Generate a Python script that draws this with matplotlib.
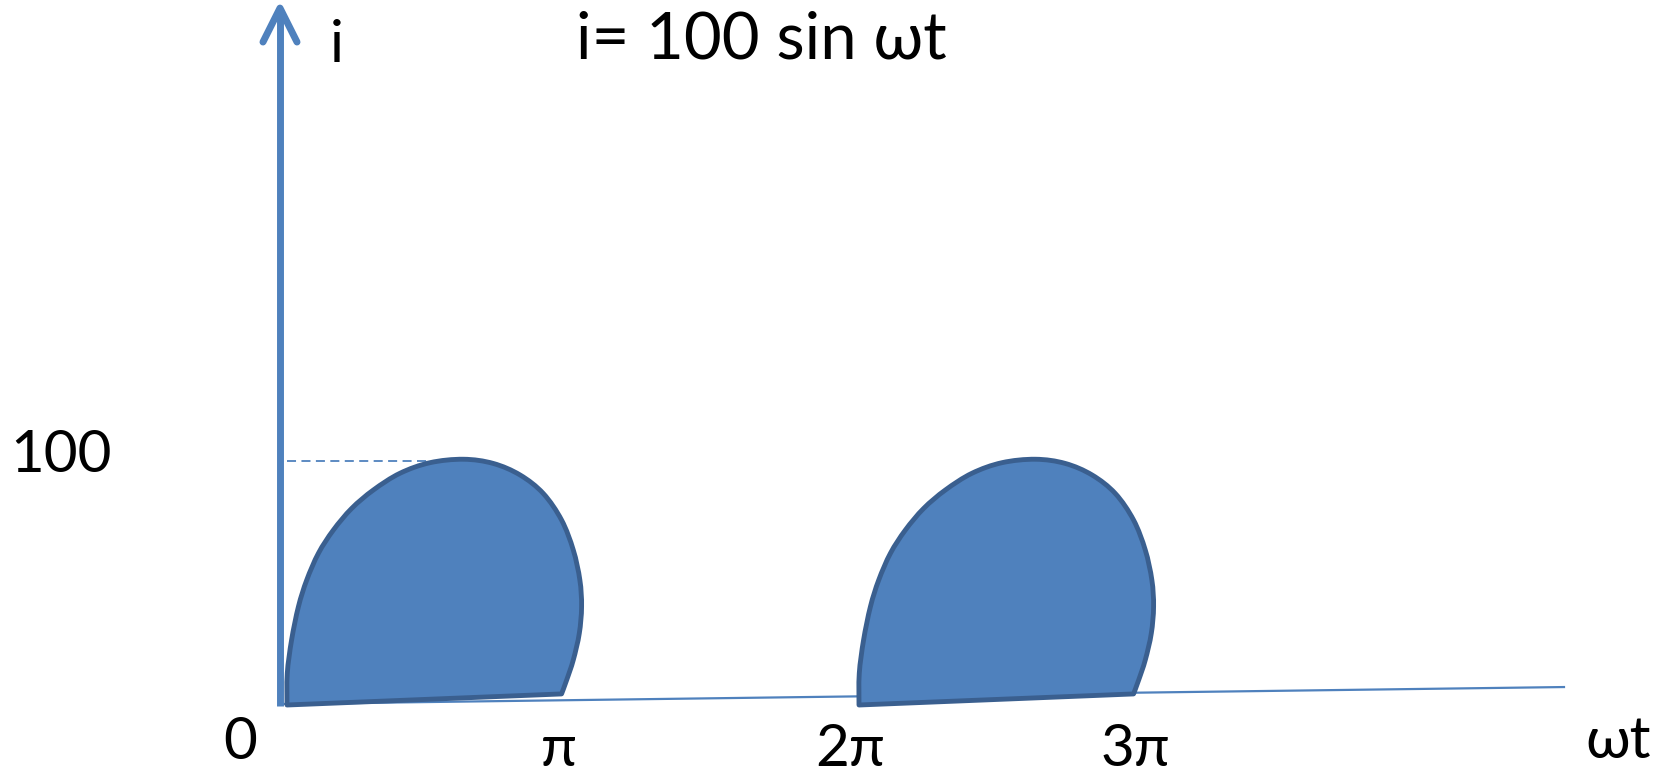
import matplotlib.pyplot as plt
from matplotlib.patches import PathPatch
from matplotlib.path import Path

plt.rcParams['font.family'] = ['Lato', 'DejaVu Sans']

# one lobe outline: x in units of pi, y = current i
lobe_x = [0.0, 0.001, 0.016, 0.040, 0.069, 0.110, 0.162, 0.226, 0.302, 0.395, 0.500,
          0.617, 0.721, 0.815, 0.896, 0.960, 1.001, 1.024, 1.030, 1.022, 1.001, 0.978, 0.960]
lobe_i = [0.0, 12.9, 26.4, 40.0, 50.8, 61.7, 71.1, 79.9, 87.4, 94.2, 98.5,
          99.9, 98.2, 93.5, 86.0, 75.2, 63.0, 50.8, 40.0, 29.1, 18.3, 10.2, 4.5]
lobe_starts = [0, 2]          # lobes start at 0 and 2pi
peak = 100

tick_labels = ["0", "π", "2π", "3π"]
tick_x = [-0.164, 0.951, 1.969, 2.965]
tick_y = [-22.0, -25.0, -25.0, -25.0]

fill_c = "#4F81BD"
edge_c = "#3A5F8F"


def smooth_path(xs, ys):
    # curved outline through the points (Catmull-Rom handles), straight bottom edge
    pts = list(zip(xs, ys))
    verts = [pts[0]]
    codes = [Path.MOVETO]
    n = len(pts)
    for k in range(n - 1):
        p0 = pts[max(k - 1, 0)]
        p1 = pts[k]
        p2 = pts[k + 1]
        p3 = pts[min(k + 2, n - 1)]
        c1 = (p1[0] + (p2[0] - p0[0]) / 6, p1[1] + (p2[1] - p0[1]) / 6)
        c2 = (p2[0] - (p3[0] - p1[0]) / 6, p2[1] - (p3[1] - p1[1]) / 6)
        verts += [c1, c2, p2]
        codes += [Path.CURVE4] * 3
    verts.append(pts[0])
    codes.append(Path.LINETO)
    verts.append(pts[0])
    codes.append(Path.CLOSEPOLY)
    return Path(verts, codes)


fig = plt.figure(figsize=(16.68, 7.78), dpi=100)
ax = fig.add_axes([0, 0, 1, 1])
ax.set_xlim(-287 / 286, (1668 - 287) / 286)
ax.set_ylim(-73 / 2.46, 705 / 2.46)
ax.axis("off")

# horizontal axis (slightly tilted, as drawn)
ax.plot([-0.028, 4.465], [0.4, 7.3], color=fill_c, lw=1.6)

# vertical axis with open arrow head
vx = -0.0245
ax.plot([vx, vx], [-0.5, 283], color=fill_c, lw=5, solid_capstyle="butt")
ax.plot([-0.084, vx, 0.035], [269.5, 283.3, 269.5], color=fill_c, lw=5,
        solid_capstyle="round", solid_joinstyle="round")

# dashed guide at i = 100
ax.plot([0.0, 0.6], [peak - 1, peak - 1], color=fill_c, lw=1.3, ls=(0, (5, 3)))

for s in lobe_starts:
    path = smooth_path([s + x for x in lobe_x], lobe_i)
    ax.add_patch(PathPatch(path, facecolor=fill_c, edgecolor=edge_c,
                           lw=3.5, joinstyle="round", zorder=3))

for lab, x, y in zip(tick_labels, tick_x, tick_y):
    ax.text(x, y, lab, fontsize=42, ha="center", va="baseline")

ax.text(4.654, -21.5, "ωt", fontsize=42, ha="center", va="baseline")
ax.text(-0.790, 94.8, "100", fontsize=42, ha="center", va="baseline")
ax.text(0.175, 261.5, "i", fontsize=42, ha="center", va="baseline")
ax.text(1.657, 263.0, "i= 100 sin ωt", fontsize=47, ha="center", va="baseline")

fig.savefig("out.png", dpi=100)
